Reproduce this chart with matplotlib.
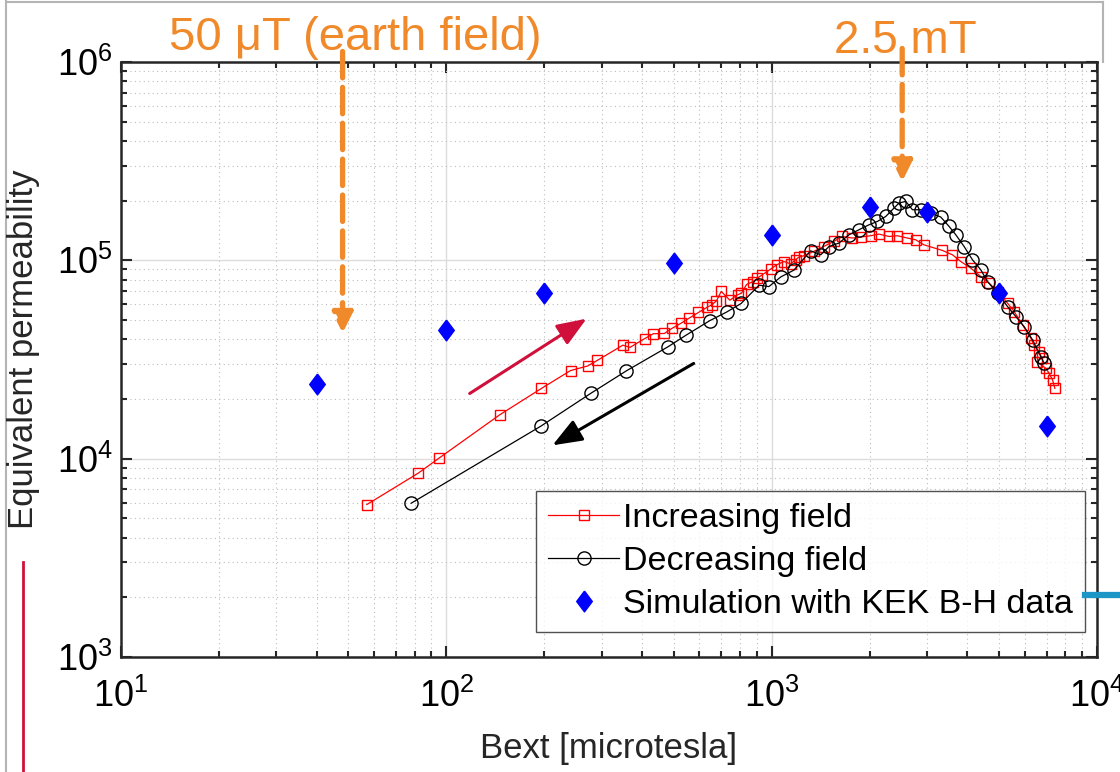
import matplotlib
matplotlib.use('Agg')
import matplotlib.pyplot as plt
from matplotlib.lines import Line2D
from matplotlib.ticker import LogLocator, NullFormatter

plt.rcParams['font.family'] = ['Liberation Sans', 'DejaVu Sans']
plt.rcParams['mathtext.default'] = 'regular'

# measured equivalent permeability, increasing field (microtesla, mu)
inc_b = [57, 82, 95, 146, 196, 241, 272, 291, 349, 367, 407, 433, 468, 495, 527,
         558, 596, 634, 654, 677, 700, 744, 786, 808, 838, 877, 904, 936, 993,
         1036, 1091, 1144, 1185, 1213, 1254, 1346, 1445, 1552, 1650, 1772, 1878,
         2017, 2138, 2296, 2437, 2615, 2773, 2936, 3352, 3597, 3815, 4096, 4396,
         4663, 4949, 5312, 5566, 5906, 6266, 6397, 6631, 6774, 6539, 6966, 7130,
         7304, 7424]
inc_mu = [5870, 8450, 10060, 16640, 22580, 27810, 29330, 31260, 37340, 36380,
          40290, 42650, 42780, 45470, 48190, 51120, 54600, 58020, 59580, 62460,
          69720, 62960, 66950, 68280, 75630, 78040, 81290, 84510, 90280, 94850,
          98620, 96000, 100580, 103800, 105400, 110800, 117400, 124500, 131900,
          129500, 131000, 133000, 135600, 131900, 133000, 129500, 126900, 119800,
          112100, 106600, 98620, 91320, 82850, 76700, 69570, 60800, 55150, 47230,
          40460, 37430, 34510, 32190, 30830, 28550, 26940, 24920, 22620]

# decreasing field
dec_b = [78, 195, 279, 358, 481, 546, 645, 729, 806, 915, 981, 1068, 1171, 1318,
         1416, 1501, 1611, 1729, 1856, 1993, 2114, 2243, 2379, 2465, 2584, 2710,
         2874, 3084, 3311, 3512, 3683, 3906, 4144, 4396, 4610, 4949, 5312, 5634,
         5975, 6342, 6725, 6884]
dec_mu = [5960, 14560, 21420, 27730, 36700, 41950, 49600, 54960, 60590, 74920,
          73720, 82550, 89220, 111700, 106600, 117400, 122200, 134500, 142600,
          151100, 157000, 166400, 183500, 194500, 198200, 179900, 179900, 173100,
          165300, 148200, 134500, 117400, 100600, 89540, 78150, 68280, 58440,
          52030, 46320, 39680, 32670, 30260]

# simulation with KEK B-H data
sim_b = [40, 100, 200, 500, 1000, 2000, 3000, 5000, 7000]
sim_mu = [23800, 44600, 68200, 96800, 134500, 186600, 176000, 68200, 14600]

orange = '#F0892A'
crimson = '#D0103A'

fig = plt.figure(figsize=(11.2, 7.72), dpi=100)
ax = fig.add_axes([0.108, 0.149, 0.8714, 0.7707])

ax.plot(inc_b, inc_mu, color='red', lw=0.9, marker='s', ms=7, mfc='none',
        mec='red', mew=1.0, label='Increasing field')
ax.plot(dec_b, dec_mu, color='black', lw=0.9, marker='o', ms=9.5, mfc='none',
        mec='black', mew=1.0, label='Decreasing field')
diamond = [(0, 1), (0.75, 0), (0, -1), (-0.75, 0), (0, 1)]
ax.plot(sim_b, sim_mu, ls='none', marker=diamond, ms=15, color='blue',
        label='Simulation with KEK B-H data')

ax.set_xscale('log')
ax.set_yscale('log')
ax.set_xlim(10, 1e4)
ax.set_ylim(1e3, 1e6)
ax.xaxis.set_minor_locator(LogLocator(base=10, subs=range(2, 10)))
ax.yaxis.set_minor_locator(LogLocator(base=10, subs=range(2, 10)))
ax.xaxis.set_minor_formatter(NullFormatter())
ax.yaxis.set_minor_formatter(NullFormatter())

ax.set_axisbelow(True)
ax.grid(True, which='major', color='#DCDCDC', lw=1.0, ls='-')
ax.grid(True, which='minor', color='#BDBDBD', lw=0.8, ls=(0, (1, 3)))

ax.tick_params(which='both', direction='in', top=True, right=True, width=1.5,
               labelsize=26, color='#262626')
ax.tick_params(which='major', length=8)
ax.tick_params(which='minor', length=4.5)
ax.tick_params(axis='x', pad=16)
ax.tick_params(axis='y', pad=6)
for s in ax.spines.values():
    s.set_linewidth(1.8)
    s.set_color('#262626')

ax.set_xlabel('Bext [microtesla]', fontsize=25, color='#262626', labelpad=12)
fig.text(24 / 1120, 1 - 349 / 772, 'Equivalent permeability', rotation=90,
         ha='center', va='center', fontsize=25, color='#262626')

leg = ax.legend(loc='lower right', bbox_to_anchor=(0.988, 0.042), fontsize=24.5,
                frameon=True, fancybox=False, edgecolor='#262626',
                handlelength=2.1, handletextpad=0.12, labelspacing=0.36,
                borderpad=0.35, borderaxespad=0)
leg.get_frame().set_linewidth(1.0)

# arrows showing direction of field sweep
ax.annotate('', xy=(270, 50800), xytext=(118, 21300),
            arrowprops=dict(arrowstyle='-|>,head_length=0.9,head_width=0.35',
                            color=crimson, lw=2.2, mutation_scale=20,
                            shrinkA=0, shrinkB=0))
ax.annotate('', xy=(212, 11670), xytext=(576, 30200),
            arrowprops=dict(arrowstyle='-|>,head_length=0.9,head_width=0.35',
                            color='black', lw=2.2, mutation_scale=20,
                            shrinkA=0, shrinkB=0))

# orange field markers
for xb, ytop, ytip in [(48, 1.13e6, 43000), (2520, 1.17e6, 250000)]:
    ax.annotate('', xy=(xb, ytip), xytext=(xb, ytop), annotation_clip=False,
                arrowprops=dict(arrowstyle='-|>,head_length=0.6,head_width=0.3',
                                color=orange, lw=3.8, ls=(0, (5, 1.8)),
                                mutation_scale=20, shrinkA=0, shrinkB=0))
fig.text(355 / 1120, 1 - 50 / 772, '50 μT (earth field)', ha='center',
         va='baseline', fontsize=34, color=orange)
fig.text(905 / 1120, 1 - 53 / 772, '2.5 mT', ha='center', va='baseline',
         fontsize=33, color=orange)

# slide frame remnants
W, H = 1120, 772
def fline(x0, y0, x1, y1, **kw):
    fig.add_artist(Line2D([x0 / W, x1 / W], [1 - y0 / H, 1 - y1 / H],
                          transform=fig.transFigure, **kw))
fline(6, 0, 6, 772, color='#B4B4B4', lw=1.5)
fline(6, 2, 1103, 2, color='#B4B4B4', lw=1.5)
fline(1103, 2, 1103, 62, color='#B4B4B4', lw=1.5)
fline(23, 562, 23, 772, color=crimson, lw=2)
fline(1085, 595, 1120, 595, color='#1B96C6', lw=4.5)

fig.savefig('out.png', dpi=100)
